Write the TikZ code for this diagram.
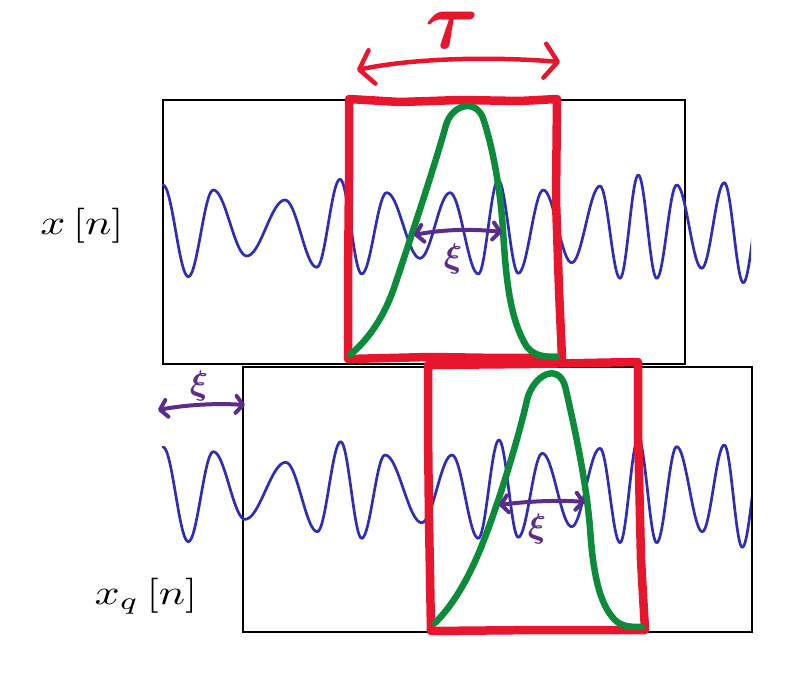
\documentclass[tikz,border=0pt]{standalone}
\usepackage{bm}
\usetikzlibrary{arrows.meta}
\definecolor{redc}{RGB}{232,22,44}
\definecolor{greenc}{RGB}{12,140,58}
\definecolor{purplec}{RGB}{92,44,140}
\definecolor{bluec}{RGB}{45,45,185}
\begin{document}
\begin{tikzpicture}[x=1pt,y=-1pt,
  framebox/.style={draw=black,line width=1.5pt},
  wave/.style={draw=bluec,line width=2.7pt,line cap=round},
  redbox/.style={draw=redc,line width=8.5pt,line join=round,line cap=round},
  greenline/.style={draw=greenc,line width=6.5pt,line join=round,line cap=round},
  parrow/.style={draw=purplec,line width=4pt,line cap=round,
     {Straight Barb[length=7pt,width=17pt,round]}-{Straight Barb[length=7pt,width=17pt,round]}},
  tauarrow/.style={draw=redc,line width=4.5pt,line cap=round,
     {Straight Barb[length=13pt,width=34pt,round]}-{Straight Barb[length=13pt,width=34pt,round]}},
  lbl/.style={inner sep=0pt,text=black},
  plbl/.style={inner sep=0pt,text=purplec},
  rlbl/.style={inner sep=0pt,text=redc}]
\useasboundingbox (0,0) rectangle (795,684);

% frames
\draw[framebox] (163,100) rectangle (685,364);
\draw[framebox] (243,367) rectangle (752,632);

% top wave
\begin{scope}
\clip (161,150) rectangle (751,300);
\foreach \a/\b [remember=\a as \pa (initially 163), remember=\b as \pb (initially 185)] in
 {188.3/276.7, 213.3/190, 246.7/256, 285/200, 316.7/267.3, 340/179.3, 361.7/274,
  386.7/192.7, 420/258.3, 450/192.7, 478.3/274, 498.3/180, 518.3/273.3, 543.3/190,
  571.7/262.7, 600/186, 620/278.3, 638.3/175, 656.7/278.3, 676.7/185, 701.7/268.3,
  724.3/182.7, 743.3/282.7, 763/185}
 {\draw[wave] plot[domain=0:180,samples=18,smooth]
    ({\pa+(\a-\pa)*\x/180},{(\pb+\b)/2+(\pb-\b)/2*cos(\x)});}
\end{scope}

% bottom wave
\begin{scope}
\clip (161,420) rectangle (751,560);
\foreach \a/\b [remember=\a as \pa (initially 163), remember=\b as \pb (initially 447)] in
 {188.3/541.7, 213.3/451.7, 245/519.3, 285.7/462.3, 317.3/531.7, 340.7/441.7, 361.7/538.3,
  385/455, 421.7/522.7, 452/455, 478.3/538.3, 499/440, 518.3/537.3, 542.3/453.3,
  571.7/526.7, 600/448.3, 620/542.7, 638.3/438.3, 656.7/542.7, 676.7/446.7, 702.3/531.7,
  724.3/445, 742.3/547.3, 762/447}
 {\draw[wave] plot[domain=0:180,samples=18,smooth]
    ({\pa+(\a-\pa)*\x/180},{(\pb+\b)/2+(\pb-\b)/2*cos(\x)});}
\end{scope}

% red windows
\draw[redbox] (349,99) -- (400,102) -- (460,100) -- (520,101) -- (557,99)
   -- (556,200) -- (559,290) -- (562,358) -- (500,358) -- (430,357) -- (348,359)
   -- (348,280) -- (349,180) -- cycle;
\draw[redbox] (428,365) -- (530,364) -- (638,362) -- (638,430) -- (641,560)
   -- (645,630) -- (540,630) -- (431,631) -- (429,520) -- (428,430) -- cycle;

% green windows
\draw[greenline] (350,355) .. controls (370,338) and (385,315) .. (395,285)
  .. controls (410,240) and (435,165) .. (446,125)
  .. controls (452,105) and (475,98) .. (483,118)
  .. controls (492,145) and (500,185) .. (503,230)
  .. controls (506,280) and (510,320) .. (527,347)
  .. controls (535,357) and (548,357) .. (557,357);
\draw[greenline] (435,623) .. controls (455,603) and (470,575) .. (482,545)
  .. controls (498,505) and (518,440) .. (527,400)
  .. controls (533,375) and (560,360) .. (566,390)
  .. controls (575,430) and (586,480) .. (590,528)
  .. controls (593,575) and (600,605) .. (615,620)
  .. controls (622,627) and (632,627) .. (642,627);

% arrow end points
\coordinate (tauL) at (357,70);
\coordinate (tauR) at (560,62);
\coordinate (e1L) at (414,235);
\coordinate (e1R) at (502,232);
\coordinate (e2L) at (499,505);
\coordinate (e2R) at (585,502);
\coordinate (e3L) at (158,410);
\coordinate (e3R) at (245,405);

\draw[tauarrow] (tauL) .. controls (420,57) and (500,57) .. (tauR);
\draw[parrow] (e1L) .. controls (445,229) and (475,229) .. (e1R);
\draw[parrow] (e2L) .. controls (530,501) and (560,500) .. (e2R);
\draw[parrow] (e3L) .. controls (185,405) and (215,403) .. (e3R);

% labels
\node[rlbl] (tau) at (452,30) {\scalebox{8.2}{$\bm{\tau}$}};
\node[plbl] (xi1) at (453,259) {\scalebox{3.4}{$\bm{\xi}$}};
\node[plbl] (xi2) at (537,529) {\scalebox{3.4}{$\bm{\xi}$}};
\node[plbl] (xi3) at (199,386) {\scalebox{3.4}{$\bm{\xi}$}};
\node[lbl] (xn) at (82,226) {\scalebox{4.4}[3.5]{$x\,[n]$}};
\node[lbl] (xqn) at (146,596) {\scalebox{4.4}[3.5]{$x_q\,[n]$}};
\end{tikzpicture}
\end{document}
